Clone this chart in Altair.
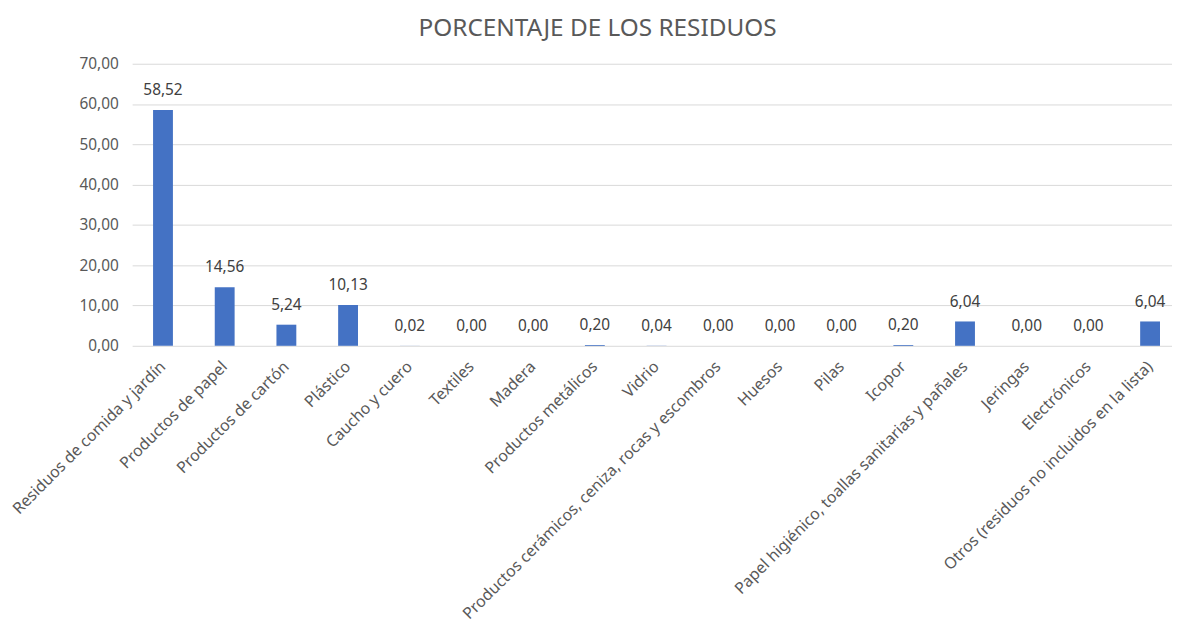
import altair as alt
import pandas as pd

categorias = [
    "Residuos de comida y jardín",
    "Productos de papel",
    "Productos de cartón",
    "Plástico",
    "Caucho y cuero",
    "Textiles",
    "Madera",
    "Productos metálicos",
    "Vidrio",
    "Productos cerámicos, ceniza, rocas y escombros",
    "Huesos",
    "Pilas",
    "Icopor",
    "Papel higiénico, toallas sanitarias y pañales",
    "Jeringas",
    "Electrónicos",
    "Otros (residuos no incluidos en la lista)",
]
porcentajes = [58.52, 14.56, 5.24, 10.13, 0.02, 0.00, 0.00, 0.20, 0.04, 0.00,
               0.00, 0.00, 0.20, 6.04, 0.00, 0.00, 6.04]

df = pd.DataFrame({"cat": categorias, "val": porcentajes})

FONT = "Noto Sans"
GREY = "#595959"
FS = 15.5

xscale = alt.Scale(paddingInner=0, paddingOuter=0, range=[0, 1056])
x = alt.X("cat:N", sort=categorias, title=None,
          axis=alt.Axis(labelAngle=-45, labelAlign="right", labelBaseline="middle",
                        labelFont=FONT, labelFontSize=16, labelColor=GREY,
                        labelPadding=18, ticks=False, domain=False, labelLimit=500),
          scale=xscale)
y = alt.Y("val:Q", title=None,
          scale=alt.Scale(domain=[0, 70], nice=False),
          axis=alt.Axis(values=[0, 10, 20, 30, 40, 50, 60, 70],
                        labelExpr="replace(format(datum.value, '.2f'), '.', ',')",
                        labelFont=FONT, labelFontSize=FS, labelColor=GREY,
                        labelPadding=14, ticks=False, domain=False,
                        grid=True, gridColor="#d9d9d9", gridWidth=1))

bars = alt.Chart(df).mark_bar(size=20, color="#4472C4").encode(x=x, y=y)
labels = alt.Chart(df).transform_calculate(
    lbl="replace(format(datum.val, '.2f'), '.', ',')"
).mark_text(dy=-20, baseline="middle", font=FONT, fontSize=FS, color="#404040").encode(
    x=alt.X("cat:N", sort=categorias, scale=xscale), y="val:Q", text="lbl:N")

chart = (bars + labels).properties(
    width=1047, height=284,
    title=alt.TitleParams("PORCENTAJE DE LOS RESIDUOS", font=FONT, fontSize=24.5,
                          fontWeight="normal", color=GREY, anchor="start",
                          dx=412, offset=15),
    autosize=alt.AutoSizeParams(type="none"),
    padding={"left": 125, "top": 54, "right": 0, "bottom": 280},
).configure_view(stroke=None)

chart.save("out.html", embed_options={"renderer": "svg", "actions": False})
